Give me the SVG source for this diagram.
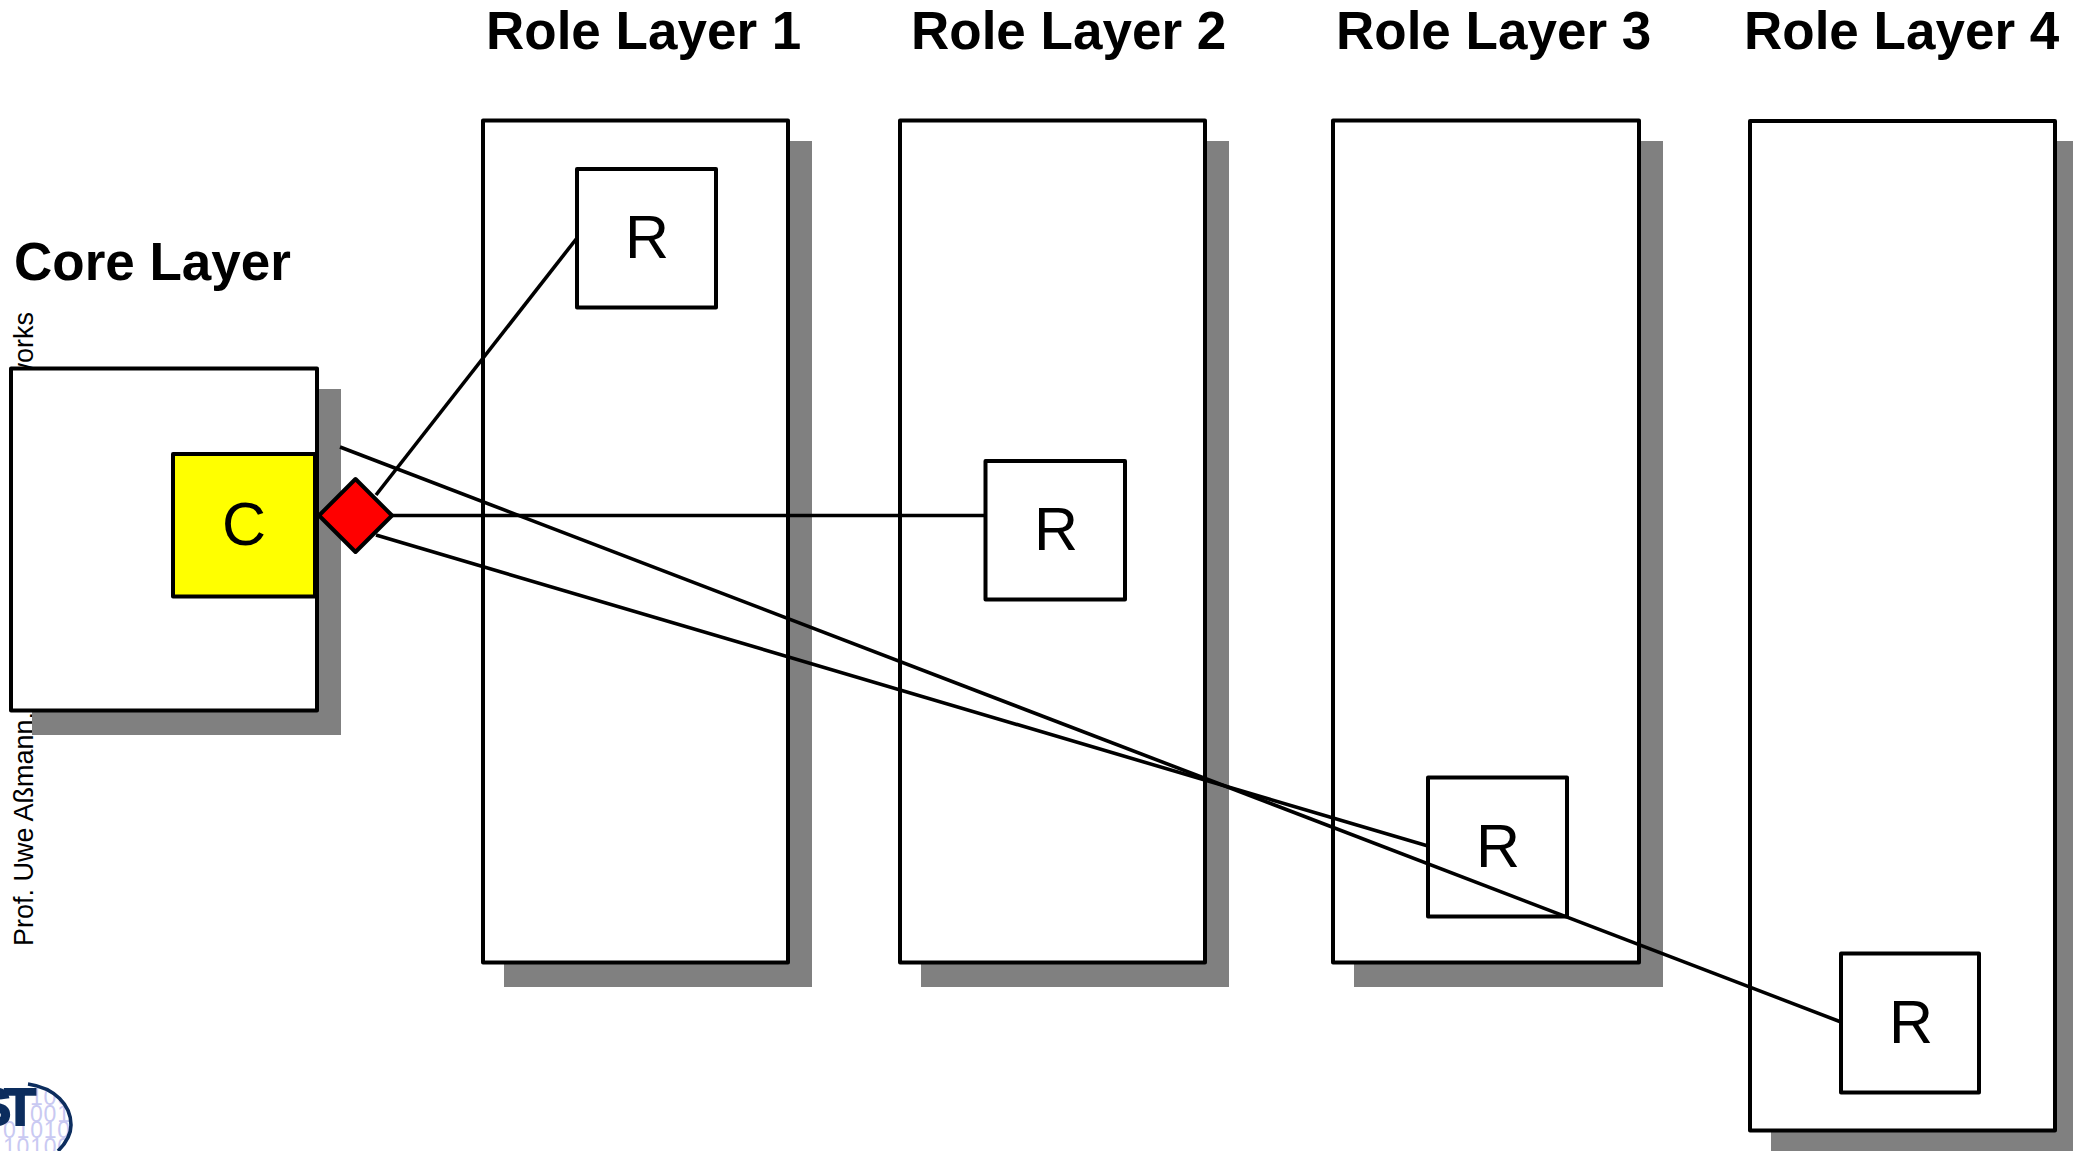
<svg xmlns="http://www.w3.org/2000/svg" width="2073" height="1151" viewBox="0 0 2073 1151">
<style>
.shadow{fill:#808080;stroke:none}
.box{fill:#fff;stroke:#000;stroke-width:4;stroke-linejoin:round}
.conn{fill:none;stroke:#000;stroke-width:3.6}
.title{font-family:"Liberation Sans",Arial,sans-serif;font-weight:700;font-size:53px;fill:#000}
.big{font-family:"Liberation Sans",Arial,sans-serif;font-size:61px;fill:#000}
.side{font-family:"Liberation Sans",Arial,sans-serif;font-size:27px;fill:#000}
.bin{font-family:"Liberation Sans",Arial,sans-serif;font-size:23px;fill:#c9c9f2;letter-spacing:.8px}
</style>
<defs><clipPath id="logoClip"><path d="M28 1084 C55 1088 71 1105 71 1125 C71 1135 66 1143 58 1151 L0 1151 L0 1084 Z"/></clipPath></defs>
<rect width="2073" height="1151" fill="#fff"/>
<g id="side-text">
<text class="side" transform="translate(33,946) rotate(-90)">Prof. Uwe Aßmann,</text>
<text class="side" text-anchor="end" transform="translate(33,312) rotate(-90)">works</text>
</g>
<g id="logo">
<g clip-path="url(#logoClip)">
<text class="bin" x="30" y="1105">100</text>
<text class="bin" x="30" y="1122">001</text>
<text class="bin" x="3" y="1138">01010</text>
<text class="bin" x="3" y="1155">10100</text>
</g>
<path d="M28 1084 C55 1088 71 1105 71 1125 C71 1135 66 1143 58 1151" fill="none" stroke="#0c2d5e" stroke-width="3.6"/>
<text x="29" y="1125" text-anchor="end" font-family="Liberation Sans, Arial, sans-serif" font-weight="700" font-size="52" letter-spacing="-7" fill="#0c2d5e" stroke="#0c2d5e" stroke-width="2">ST</text>
</g>
<g id="core-layer">
<rect class="shadow" x="32" y="389" width="309" height="346"/>
<rect class="box" x="11" y="368.5" width="306" height="342"/>
<text class="title" x="14" y="280">Core Layer</text>
</g>
<g id="role-layer-1">
<rect class="shadow" x="504" y="141" width="308" height="846"/>
<rect class="box" x="483" y="120.5" width="305" height="842"/>
<text class="title" x="486" y="49">Role Layer 1</text>
</g>
<g id="role-layer-2">
<rect class="shadow" x="921" y="141" width="308" height="846"/>
<rect class="box" x="900" y="120.5" width="305" height="842"/>
<text class="title" x="911" y="49">Role Layer 2</text>
</g>
<g id="role-layer-3">
<rect class="shadow" x="1354" y="141" width="309" height="846"/>
<rect class="box" x="1333" y="120.5" width="306" height="842"/>
<text class="title" x="1336" y="49">Role Layer 3</text>
</g>
<g id="role-layer-4">
<rect class="shadow" x="1771" y="141" width="302" height="1010"/>
<rect class="box" x="1750" y="121" width="305" height="1009.5"/>
<text class="title" x="1744" y="49">Role Layer 4</text>
</g>
<g id="role-1"><rect class="box" x="577" y="169" width="139" height="138.5"/><text class="big" x="625" y="258">R</text></g>
<g id="role-2"><rect class="box" x="985.5" y="461" width="139.5" height="138.5"/><text class="big" x="1034" y="550">R</text></g>
<g id="role-3"><rect class="box" x="1428" y="777.5" width="139" height="139"/><text class="big" x="1476" y="867">R</text></g>
<g id="role-4"><rect class="box" x="1841" y="953.5" width="138" height="139"/><text class="big" x="1889" y="1043">R</text></g>
<g id="core"><rect class="box" x="173" y="454" width="142" height="142.5" style="fill:#ff0"/><text class="big" x="222" y="545">C</text></g>
<g id="connectors">
<line class="conn" x1="376" y1="495" x2="577" y2="238"/>
<line class="conn" x1="392" y1="515.5" x2="985" y2="515.5"/>
<line class="conn" x1="376" y1="535" x2="1428" y2="846"/>
<line class="conn" x1="340" y1="447" x2="1841" y2="1022"/>
</g>
<g id="diamond"><polygon points="319,515.5 355.5,479 392,515.5 355.5,552" fill="#f00" stroke="#000" stroke-width="4" stroke-linejoin="round"/></g>
</svg>
